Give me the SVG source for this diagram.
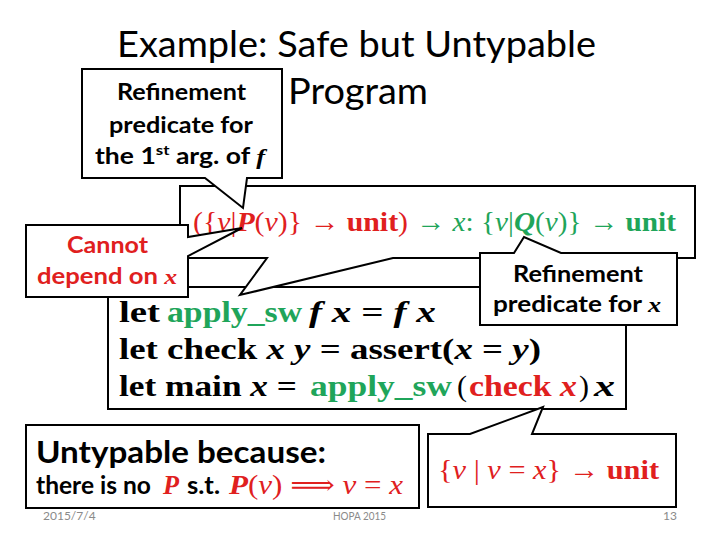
<svg xmlns="http://www.w3.org/2000/svg" width="720" height="540" viewBox="0 0 720 540">
<style>
.box{fill:#fff;stroke:#000;stroke-width:2;stroke-linejoin:miter}
.sans{font-family:Lato,"Open Sans","Liberation Sans",sans-serif}
.serif{font-family:"Liberation Serif","DejaVu Serif",serif}
.b{font-weight:bold}
.i{font-style:italic}
.red{fill:#E0201E}
.green{fill:#1FA55A}
.blk{fill:#000}
.foot{font-family:Lato,"Liberation Sans",sans-serif;font-size:12px;fill:#8a8a8a}
</style>
<rect width="720" height="540" fill="#fff"/>

<g id="title" class="sans" font-size="36">
  <text x="117" y="57" textLength="479" lengthAdjust="spacingAndGlyphs">Example: Safe but Untypable</text>
  <text x="288" y="104" textLength="140" lengthAdjust="spacingAndGlyphs">Program</text>
</g>

<g id="code">
  <rect class="box" x="108" y="287" width="518" height="122"/>
  <g class="serif b" font-size="30">
    <text x="119" y="322" textLength="41" lengthAdjust="spacingAndGlyphs">let</text>
    <text class="green" x="167" y="322" textLength="135" lengthAdjust="spacingAndGlyphs">apply_sw</text>
    <text x="309" y="322" textLength="127" lengthAdjust="spacingAndGlyphs"><tspan class="i">f</tspan> <tspan class="i">x</tspan> = <tspan class="i">f</tspan> <tspan class="i">x</tspan></text>
    <text x="119" y="359" textLength="422" lengthAdjust="spacingAndGlyphs">let check <tspan class="i">x</tspan> <tspan class="i">y</tspan> = assert(<tspan class="i">x</tspan> = <tspan class="i">y</tspan>)</text>
    <text x="119" y="396" textLength="178" lengthAdjust="spacingAndGlyphs">let main <tspan class="i">x</tspan> =</text>
    <text class="green" x="310" y="396" textLength="142" lengthAdjust="spacingAndGlyphs">apply_sw</text>
    <text x="457" y="396" font-weight="normal">(</text>
    <text class="red" x="469" y="396" textLength="108" lengthAdjust="spacingAndGlyphs">check <tspan class="i">x</tspan></text>
    <text x="579" y="396" font-weight="normal">)</text>
    <text class="i" x="594" y="396" textLength="21" lengthAdjust="spacingAndGlyphs">x</text>
  </g>
</g>

<g id="type-callout">
  <path class="box" d="M180,186 H695 V258 H393 L240,295 L267,258 H180 Z"/>
  <g class="serif" font-size="28">
    <text class="red" x="193" y="231" textLength="215" lengthAdjust="spacingAndGlyphs">({<tspan class="i">v</tspan>|<tspan class="b i">P</tspan>(<tspan class="i">v</tspan>)} → <tspan class="b">unit</tspan>)</text>
    <text class="green" x="416" y="231" textLength="260" lengthAdjust="spacingAndGlyphs">→ <tspan class="i">x</tspan>: {<tspan class="i">v</tspan>|<tspan class="b i">Q</tspan>(<tspan class="i">v</tspan>)} → <tspan class="b">unit</tspan></text>
  </g>
</g>

<g id="refine-f-callout">
  <path class="box" d="M82,69 H282 V178 H247 L243,208 L205,178 H82 Z"/>
  <g class="sans b" font-size="22" text-anchor="start">
    <text x="117" y="100" textLength="129" lengthAdjust="spacingAndGlyphs">Refinement</text>
    <text x="109" y="133" textLength="144" lengthAdjust="spacingAndGlyphs">predicate for</text>
    <text x="95" y="164" textLength="170" lengthAdjust="spacingAndGlyphs">the 1<tspan font-size="14" dy="-9">st</tspan><tspan dy="9"> arg. of </tspan><tspan class="serif i">f</tspan></text>
  </g>
</g>

<g id="cannot-callout">
  <path class="box" d="M26,225 H188 V237 L242,228 L188,256 V297 H26 Z"/>
  <g class="sans b red" font-size="22">
    <text x="67" y="253" textLength="81" lengthAdjust="spacingAndGlyphs">Cannot</text>
    <text x="37" y="284" textLength="140" lengthAdjust="spacingAndGlyphs">depend on <tspan class="serif i">x</tspan></text>
  </g>
</g>

<g id="refine-x-callout">
  <path class="box" d="M480,253 H514 L524,237 L561,253 H677 V325 H480 Z"/>
  <g class="sans b" font-size="22">
    <text x="513" y="282" textLength="130" lengthAdjust="spacingAndGlyphs">Refinement</text>
    <text x="493" y="312" textLength="168" lengthAdjust="spacingAndGlyphs">predicate for <tspan class="serif i">x</tspan></text>
  </g>
</g>

<g id="untypable">
  <rect class="box" x="26" y="425" width="393" height="83"/>
  <text class="sans b" x="36" y="463" font-size="30" textLength="290" lengthAdjust="spacingAndGlyphs">Untypable because:</text>
  <text class="sans b" x="36" y="494" font-size="24" textLength="115" lengthAdjust="spacingAndGlyphs">there is no</text>
  <text class="serif b i red" x="163" y="494" font-size="27" textLength="16" lengthAdjust="spacingAndGlyphs">P</text>
  <text class="sans b" x="187" y="494" font-size="24" textLength="33" lengthAdjust="spacingAndGlyphs">s.t.</text>
  <text class="serif red" x="229" y="494" font-size="27" textLength="174" lengthAdjust="spacingAndGlyphs"><tspan class="b i">P</tspan>(<tspan class="i">v</tspan>) ⟹ <tspan class="i">v</tspan> = <tspan class="i">x</tspan></text>
</g>

<g id="type-x-callout">
  <path class="box" d="M428,434 H470 L543,407 L532,434 H676 V507 H428 Z"/>
  <text class="serif red" x="438" y="479" font-size="28" textLength="221" lengthAdjust="spacingAndGlyphs">{<tspan class="i">v</tspan> | <tspan class="i">v</tspan> = <tspan class="i">x</tspan>} → <tspan class="b">unit</tspan></text>
</g>

<g id="connectors"></g>

<g id="footer">
  <text class="foot" x="43" y="520">2015/7/4</text>
  <text class="foot" x="333" y="520" textLength="53" lengthAdjust="spacingAndGlyphs">HOPA 2015</text>
  <text class="foot" x="677" y="520" text-anchor="end">13</text>
</g>
</svg>
